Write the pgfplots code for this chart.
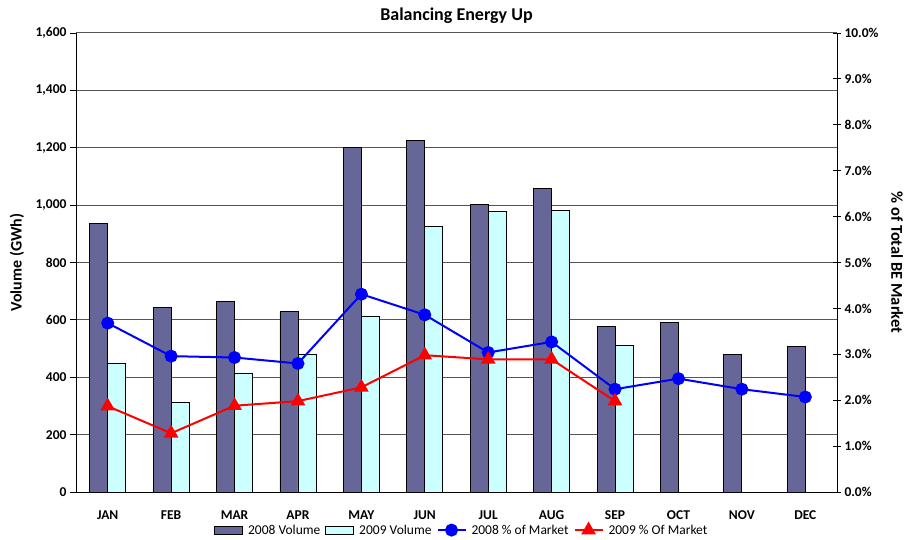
\documentclass[border=0pt]{standalone}
\usepackage{pgfplots}
\usepackage{pgfplotstable}
\pgfplotsset{compat=1.18}
\usepackage{fontspec}
\setmainfont{Carlito}

\definecolor{vol08}{HTML}{666699}
\definecolor{vol09}{HTML}{CCFFFF}
\definecolor{gridc}{HTML}{555555}

% month index, 2008 volume, 2009 volume (GWh)
\pgfplotstableread{
x  v08   v09
0  935   450
1  642   313
2  665   415
3  630   478
4  1202  611
5  1227  927
6  1001  979
7  1057  980
8  577   511
9  592   nan
10 481   nan
11 507   nan
}\voldata

% share of total BE market (%)
\pgfplotstableread{
x  p08
0  3.68
1  2.96
2  2.93
3  2.80
4  4.31
5  3.86
6  3.04
7  3.27
8  2.24
9  2.47
10 2.24
11 2.07
}\pctA

\pgfplotstableread{
x  p09
0  1.87
1  1.28
2  1.88
3  1.98
4  2.28
5  2.98
6  2.89
7  2.89
8  1.98
}\pctB

\pgfplotsset{
  common/.style={
    width=761pt, height=459pt, scale only axis,
    at={(76pt,47pt)}, anchor=south west,
    xmin=-0.5, xmax=11.5,
    font=\fontsize{13.5}{16}\selectfont,
    /pgf/number format/assume math mode=true,
    ticklabel style={font=\fontsize{13.5}{16}\selectfont\bfseries},
  },
  linelegend/.style={legend image code/.code={%
    \draw[mark repeat=2,mark phase=2,##1] plot coordinates {(0pt,0pt) (14pt,0pt) (28pt,0pt)};}},
  boxlegend/.style={legend image code/.code={%
    \draw[##1] (0pt,-4pt) rectangle (28pt,4pt);}},
}

\begin{document}
\begin{tikzpicture}
\useasboundingbox (0,0) rectangle (909pt,539pt);

\begin{axis}[
  common,
  axis y line*=left,
  axis x line*=bottom,
  ymin=0, ymax=1600,
  ytick={0,200,...,1600},
  yticklabel style={/pgf/number format/.cd,1000 sep={,}},
  ymajorgrids,
  grid style={gridc, line width=1pt},
  ytick align=outside,
  tick style={black, line width=0.8pt},
  axis line style={black, line width=0.8pt},
  major tick length=6pt,
  xtick={0,...,11},
  xticklabels={JAN,FEB,MAR,APR,MAY,JUN,JUL,AUG,SEP,OCT,NOV,DEC},
  major x tick style={draw=none},
  extra x ticks={-0.5,0.5,...,11.5},
  extra x tick labels={},
  extra x tick style={tick align=center, grid=none, major x tick style={black, line width=0.8pt}},
  xticklabel style={yshift=-9pt},
  ybar=0pt, bar width=18pt,
  title={Balancing Energy Up},
  title style={font=\fontsize{18}{20}\selectfont\bfseries, yshift=0pt},
  ylabel={Volume (GWh)},
  every axis y label/.style={at={(axis description cs:-0.0775,0.5)}, anchor=center, rotate=90, font=\fontsize{16}{18}\selectfont\bfseries},
]
\addplot[fill=vol08, draw=black, line width=0.8pt] table[x=x,y=v08]{\voldata};
\addplot[fill=vol09, draw=black, line width=0.8pt] table[x=x,y=v09]{\voldata};
\end{axis}

\begin{axis}[
  common,
  axis y line*=right,
  axis x line=none,
  ymin=0, ymax=10,
  ytick={0,1,...,10},
  yticklabel={\pgfmathprintnumber[fixed,fixed zerofill,precision=1]{\tick}\%},
  ytick align=center,
  major tick length=8pt,
  tick style={black, line width=0.8pt},
  axis line style={black, line width=0.8pt},
  ylabel={\% of Total BE Market},
  every axis y label/.style={at={(axis description cs:1.079,0.5)}, anchor=center, rotate=-90, font=\fontsize{16.5}{18}\selectfont\bfseries},
  legend columns=4,
  legend style={at={(axis description cs:0.507,-0.083)}, anchor=center, draw=none, fill=none,
    font=\fontsize{13.5}{16}\selectfont, column sep=3pt, inner sep=0pt},
  legend cell align=left,
]
\addlegendimage{boxlegend, fill=vol08, draw=black, line width=0.8pt}
\addlegendentry{2008 Volume}
\addlegendimage{boxlegend, fill=vol09, draw=black, line width=0.8pt}
\addlegendentry{2009 Volume}
\addplot[blue, line width=2pt, mark=*, mark size=5.5pt, mark options={solid, fill=blue}, linelegend]
  table[x=x,y=p08]{\pctA};
\addlegendentry{2008 \% of Market}
\addplot[red, line width=2pt, mark=triangle*, mark size=6.5pt, mark options={solid, fill=red}, linelegend]
  table[x=x,y=p09]{\pctB};
\addlegendentry{2009 \% Of Market}
\end{axis}
\end{tikzpicture}
\end{document}
